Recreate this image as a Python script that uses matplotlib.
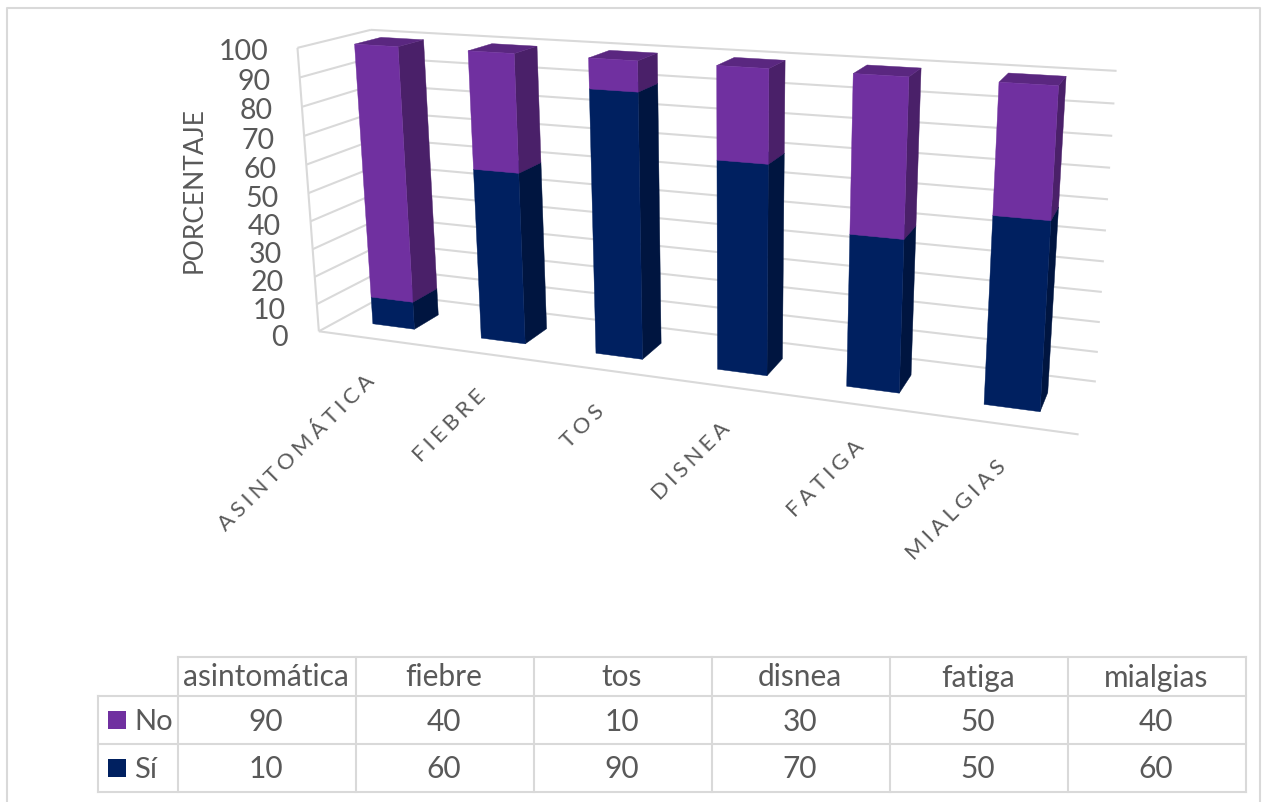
import numpy as np
import matplotlib
matplotlib.use("Agg")
import matplotlib.pyplot as plt

plt.rcParams['font.family'] = ['Lato', 'DejaVu Sans']

categories = ["asintomática", "fiebre", "tos", "disnea", "fatiga", "mialgias"]
no_values = [90, 40, 10, 30, 50, 40]
si_values = [10, 60, 90, 70, 50, 60]
y_ticks = [0, 10, 20, 30, 40, 50, 60, 70, 80, 90, 100]

GRID = "#d9d9d9"
TEXT = "#595959"
NO_C = ("#7030a0", "#4a2069", "#5a2780")
SI_C = ("#002060", "#001540", "#001a50")

# box corners in the picture: (category, value, depth) -> pixel
calib = [
    ((0, 100, 0), (298.3, 46.7)),
    ((0, 0, 0), (318.3, 333.3)),
    ((0, 100, 1), (370.0, 31.0)),
    ((0, 0, 1), (388.0, 292.0)),
    ((6, 100, 1), (1116.7, 70.7)),
    ((6, 0, 1), (1096.0, 382.7)),
    ((6, 0, 0), (1078.3, 433.3)),
]

A = []
b = []
for (X, Y, Z), (u, v) in calib:
    A.append([X, Y, Z, 1, 0, 0, 0, 0, -u*X, -u*Y, -u*Z])
    A.append([0, 0, 0, 0, X, Y, Z, 1, -v*X, -v*Y, -v*Z])
    b += [u, v]
P = np.linalg.lstsq(np.array(A, float), np.array(b, float), rcond=None)[0]
P = np.append(P, 1).reshape(3, 4)


def proj(x, y, z):
    p = P @ np.array([x, y, z, 1.0])
    return p[0]/p[2], p[1]/p[2]


fig = plt.figure(figsize=(12.62, 8.02), dpi=100)
ax = fig.add_axes([0, 0, 1, 1])
ax.set_xlim(0, 1262)
ax.set_ylim(802, 0)
ax.axis("off")


def seg(a, b, lw=1.5):
    p = proj(*a)
    q = proj(*b)
    ax.plot([p[0], q[0]], [p[1], q[1]], color=GRID, lw=lw, solid_capstyle="butt", zorder=1)


# outer frame
ax.plot([7, 7, 1260, 1260], [802, 8, 8, 802], color=GRID, lw=1.5, zorder=1)

# walls
n = len(categories)
for t in y_ticks:
    seg((0, t, 0), (0, t, 1))
    seg((0, t, 1), (n, t, 1))
seg((0, 0, 0), (0, 100, 0))
seg((0, 0, 0), (n, 0, 0))

# bars
BAR_W = 0.39
BAR_C = 0.505
Z0 = 0.30
Z1 = 0.67


def box(i, y0, y1, cols, order):
    x0 = i + BAR_C - BAR_W/2
    x1 = i + BAR_C + BAR_W/2
    front = [(x0, y0, Z0), (x1, y0, Z0), (x1, y1, Z0), (x0, y1, Z0)]
    side = [(x1, y0, Z0), (x1, y0, Z1), (x1, y1, Z1), (x1, y1, Z0)]
    top = [(x0, y1, Z0), (x1, y1, Z0), (x1, y1, Z1), (x0, y1, Z1)]
    for pts, c in zip((side, top, front), (cols[1], cols[2], cols[0])):
        xy = np.array([proj(*q) for q in pts])
        ax.fill(xy[:, 0], xy[:, 1], color=c, lw=0.3, zorder=order)


for i in range(n):
    box(i, 0, si_values[i], SI_C, 2 + i)
    box(i, si_values[i], si_values[i] + no_values[i], NO_C, 2 + i)

# value axis labels
for t in y_ticks:
    px, py = proj(0, t, 0)
    ax.text(px - 31 + 2*t/100, py + 4 + 3*(1 - t/100), str(t), ha="right", va="center",
            fontsize=20.5, color=TEXT)
ax.text(194, 190, "PORCENTAJE", rotation=90, ha="center", va="center", fontsize=19, color=TEXT)

# category labels, spaced out as in the original
sep = "\u2009\u200a"
for i, c in enumerate(categories):
    px, py = proj(i + 0.5, 0, 0)
    ax.text(px - 8, py + 32, sep.join(c.upper()), rotation=45, rotation_mode="anchor",
            ha="right", va="top", fontsize=16, color=TEXT)

# data table
col_x = [178 + 178*i for i in range(n + 1)]
row_y = [657, 696, 743.5, 791.5]
for x in col_x:
    ax.plot([x, x], [row_y[0], row_y[3]], color=GRID, lw=1.5, zorder=1)
ax.plot([97.5, 97.5], [row_y[1], row_y[3]], color=GRID, lw=1.5, zorder=1)
ax.plot([178, col_x[-1]], [row_y[0], row_y[0]], color=GRID, lw=1.5, zorder=1)
for y in row_y[1:]:
    ax.plot([97.5, col_x[-1]], [y, y], color=GRID, lw=1.5, zorder=1)

for i, c in enumerate(categories):
    cx = (col_x[i] + col_x[i+1])/2 - 1
    ax.text(cx, (row_y[0] + row_y[1])/2 + 1, c, ha="center", va="center", fontsize=21.5, color=TEXT)
    ax.text(cx, (row_y[1] + row_y[2])/2 + 2, str(no_values[i]), ha="center", va="center", fontsize=21.5, color=TEXT)
    ax.text(cx, (row_y[2] + row_y[3])/2 + 2, str(si_values[i]), ha="center", va="center", fontsize=21.5, color=TEXT)

for name, c, y in (("No", NO_C[0], (row_y[1] + row_y[2])/2), ("Sí", SI_C[0], (row_y[2] + row_y[3])/2)):
    ax.fill([108, 126, 126, 108], [y - 9, y - 9, y + 9, y + 9], color=c, lw=0)
    ax.text(134, y + 2, name, ha="left", va="center", fontsize=21, color=TEXT)

fig.savefig("out.png", dpi=100)
